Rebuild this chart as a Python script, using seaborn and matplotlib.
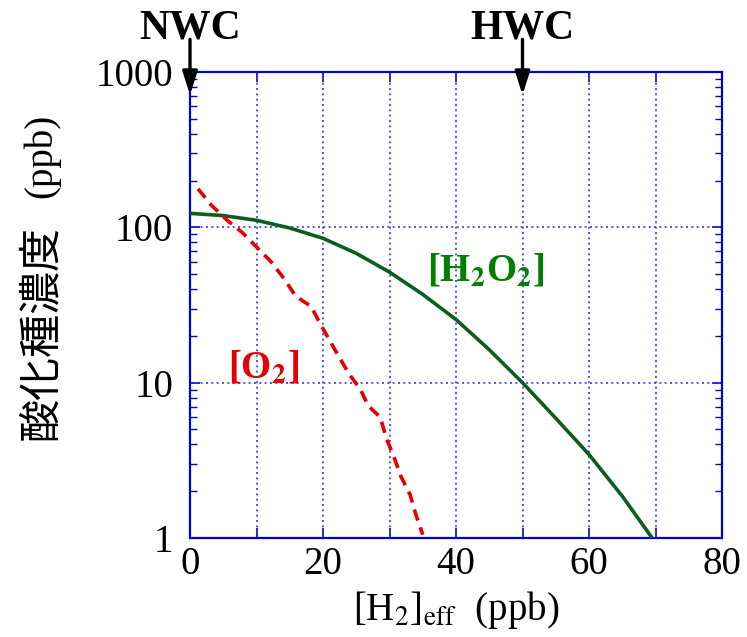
import matplotlib
matplotlib.use("Agg")
import matplotlib.pyplot as plt
import matplotlib.ticker as mticker
import numpy as np
import pandas as pd
import seaborn as sns

# Effective hydrogen concentration (ppb) and oxidant concentrations (ppb)
h2o2_x = [0, 5, 10, 15, 20, 25, 30, 35, 40, 45, 50, 55, 60, 65, 69.5]
h2o2_y = [123, 119, 111, 99, 85, 68, 51.5, 37, 25.5, 16.3, 10, 5.9, 3.45, 1.86, 1.0]

o2_x = [1.2, 3.2, 5.7, 7.8, 10.1, 12.2, 14.1, 15.9, 18.2, 19.8, 21.9, 23.9,
        25.6, 26.8, 28.6, 29.6, 30.7, 31.7, 33.1, 34.0, 35.0]
o2_y = [177, 139, 110, 93, 74, 60, 47, 36, 31, 23, 16, 11.4,
        9.1, 7.1, 6.0, 4.3, 3.3, 2.5, 1.9, 1.4, 1.05]

x_ticks = [0, 20, 40, 60, 80]
y_ticks = [1, 10, 100, 1000]
y_tick_labels = ["1", "10", "100", "1000"]

# Operating conditions marked above the plot
conditions = ["NWC", "HWC"]
condition_x = [0, 50]

sns.set_style("ticks")
plt.rcParams["font.family"] = ["Liberation Serif", "Noto Sans CJK JP"]
plt.rcParams["mathtext.fontset"] = "stix"
plt.rcParams["text.color"] = "black"
plt.rcParams["axes.labelcolor"] = "black"
plt.rcParams["xtick.labelcolor"] = "black"
plt.rcParams["ytick.labelcolor"] = "black"

frame_blue = "#0000d0"
grid_blue = "#3c3ce6"

fig = plt.figure(figsize=(7.47, 6.37), dpi=100)
ax = fig.add_axes([190 / 747, 1 - 538 / 637, 532 / 747, 466 / 637])

df_h2o2 = pd.DataFrame({"x": h2o2_x, "y": h2o2_y})
df_o2 = pd.DataFrame({"x": o2_x, "y": o2_y})

sns.lineplot(data=df_h2o2, x="x", y="y", ax=ax, color="#0b5e1e",
             linewidth=2.6, sort=False, zorder=3)
sns.lineplot(data=df_o2, x="x", y="y", ax=ax, color="#e60000",
             linewidth=2.6, linestyle=(0, (3.2, 2.0)), sort=False, zorder=3)

ax.set_yscale("log")
ax.set_xlim(0, 80)
ax.set_ylim(1, 1000)

# Ticks: inward on all sides, blue
ax.xaxis.set_major_locator(mticker.FixedLocator(x_ticks))
ax.xaxis.set_minor_locator(mticker.MultipleLocator(10))
ax.yaxis.set_major_locator(mticker.FixedLocator(y_ticks))
ax.yaxis.set_major_formatter(mticker.FixedFormatter(y_tick_labels))
ax.yaxis.set_minor_locator(mticker.LogLocator(base=10, subs=np.arange(2, 10)))
ax.yaxis.set_minor_formatter(mticker.NullFormatter())

ax.tick_params(which="both", direction="in", top=True, right=True,
               color=frame_blue, labelsize=28, labelcolor="black")
ax.tick_params(axis="x", which="major", length=7, width=1.2, pad=6)
ax.tick_params(axis="x", which="minor", length=7, width=1.2)
ax.tick_params(axis="y", which="major", length=7, width=1.2, pad=12)
ax.tick_params(axis="y", which="minor", length=5, width=1.0)

for spine in ax.spines.values():
    spine.set_color(frame_blue)
    spine.set_linewidth(1.6)
    spine.set_visible(True)

# Dotted grid every 10 ppb and at each decade
for gx in range(10, 80, 10):
    ax.axvline(gx, color=grid_blue, linestyle=(0, (1.2, 2.0)), linewidth=1.2, zorder=1)
for gy in [10, 100]:
    ax.axhline(gy, color=grid_blue, linestyle=(0, (1.2, 2.0)), linewidth=1.2, zorder=1)

ax.set_xlabel(r"[H$_2$]$_{\rm eff}$  (ppb)", fontsize=28, labelpad=4, color="black")
ax.set_ylabel("")

# Vertical axis title: Japanese part in a gothic face, unit in serif
ax.text(-0.280, 0.44, "酸化種濃度", transform=ax.transAxes, rotation=90,
        fontsize=31, family=["Noto Sans CJK JP"], ha="center", va="center",
        color="black")
ax.text(-0.280, 0.82, "(ppb)", transform=ax.transAxes, rotation=90,
        fontsize=28, ha="center", va="center", color="black")

# Curve labels
ax.text(44.4, 52, r"[H$_\mathbf{2}$O$_\mathbf{2}$]", color="#008000",
        fontsize=28, fontweight="bold", ha="center", va="center")
ax.text(11, 12.4, r"[O$_\mathbf{2}$]", color="#e60000",
        fontsize=28, fontweight="bold", ha="center", va="center")

# Condition markers with arrows
xtrans = ax.get_xaxis_transform()
for name, cx in zip(conditions, condition_x):
    ax.annotate("", xy=(cx, 0.951), xytext=(cx, 1.07),
                xycoords=xtrans, textcoords=xtrans, annotation_clip=False,
                arrowprops=dict(arrowstyle="-|>,head_length=1.4,head_width=0.45",
                                color="black", linewidth=2.4,
                                shrinkA=0, shrinkB=0))
    ax.text(cx, 1.094, name, transform=xtrans, fontsize=30, fontweight="bold",
            ha="center", va="center", clip_on=False, color="black")

fig.savefig("out.png", dpi=100)
